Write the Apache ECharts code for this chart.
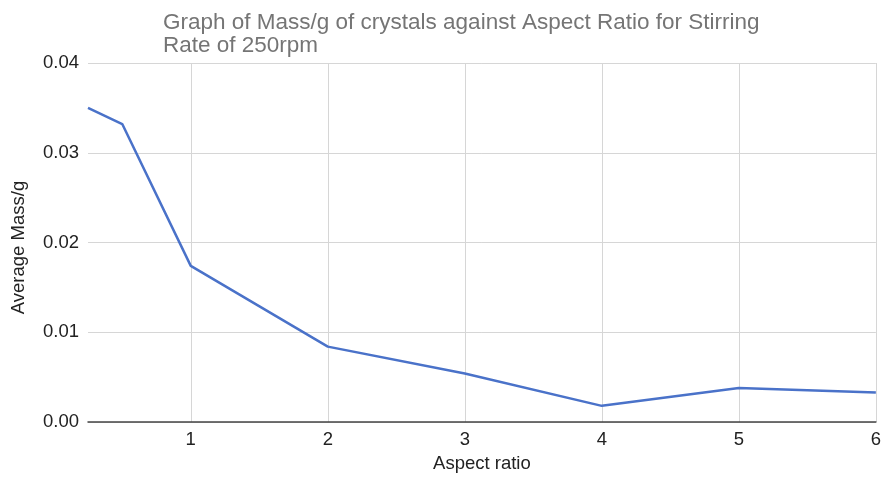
<!DOCTYPE html>
<html><head><meta charset="utf-8">
<script src="https://cdn.jsdelivr.net/npm/echarts@6/dist/echarts.min.js"></script>
<style>html,body{margin:0;padding:0;background:#fff}#c{width:884px;height:478px}</style>
</head><body><div id="c"></div>
<script>
const aspectRatio = [0.25, 0.5, 1, 2, 3, 4, 5, 6];
const avgMass = [0.0350, 0.0332, 0.0174, 0.0084, 0.0054, 0.0018, 0.0038, 0.0033];
const titleLines = ['Graph of Mass/g of crystals against Aspect Ratio for Stirring', 'Rate of 250rpm'];
const xName = 'Aspect ratio';
const yName = 'Average Mass/g';

const chart = echarts.init(document.getElementById('c'), null, {renderer: 'canvas'});
const font = 'Liberation Sans, Arial, sans-serif';
chart.setOption({
  animation: false,
  title: {
    text: titleLines.join('\n'),
    left: 158, top: 7,
    textStyle: {color: '#757575', fontSize: 22.5, fontWeight: 'normal', fontFamily: font, lineHeight: 22.5}
  },
  grid: {left: 88, right: 7, top: 63, bottom: 56, containLabel: false},
  xAxis: {
    type: 'value', min: 0.25, max: 6,
    name: xName, nameLocation: 'middle', nameGap: 32,
    nameTextStyle: {color: '#222', fontSize: 18.5, fontFamily: font},
    axisLine: {show: true, lineStyle: {color: '#444', width: 1.5}},
    axisTick: {show: false},
    axisLabel: {color: '#222', fontSize: 18.5, fontFamily: font, margin: 8,
      formatter: v => Number.isInteger(v) ? String(v) : ''},
    splitLine: {show: true, showMinLine: false, lineStyle: {color: '#d6d6d6', width: 1}}
  },
  yAxis: {
    type: 'value', min: 0, max: 0.04, interval: 0.01,
    name: yName, nameLocation: 'middle', nameGap: 60, nameRotate: 90,
    nameTextStyle: {color: '#222', fontSize: 18.5, fontFamily: font, padding: [0, 10, 0, 0]},
    axisLine: {show: false},
    axisTick: {show: false},
    axisLabel: {color: '#222', fontSize: 18.5, fontFamily: font, margin: 9,
      formatter: v => v.toFixed(2)},
    splitLine: {show: true, lineStyle: {color: '#d6d6d6', width: 1}}
  },
  series: [{
    type: 'line',
    data: aspectRatio.map((x, i) => [x, avgMass[i]]),
    showSymbol: false,
    lineStyle: {color: '#4a72c9', width: 2.5},
    itemStyle: {color: '#4a72c9'}
  }]
});
</script></body></html>
